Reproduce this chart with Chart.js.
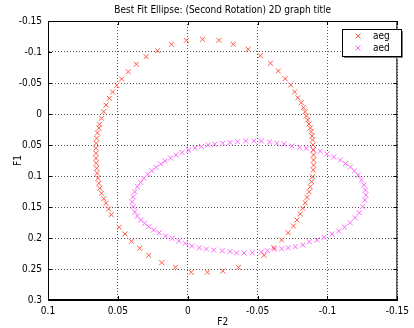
<!DOCTYPE html>
<html lang="en">
<head>
    <meta charset="UTF-8">
    <title>Best Fit Ellipse</title>
    <script src="https://cdn.jsdelivr.net/npm/chart.js"></script>
    <style>
        body { margin: 0; background: #fff; }
    </style>
</head>

<body>
    <canvas id="ellipseChart" width="414" height="328"></canvas>

    <script>
        // Tick values and labels
        const xTicks = [0.1, 0.05, 0, -0.05, -0.1, -0.15];
        const xTickLabels = ['0.1', '0.05', '0', '-0.05', '-0.1', '-0.15'];
        const yTicks = [-0.15, -0.1, -0.05, 0, 0.05, 0.1, 0.15, 0.2, 0.25, 0.3];
        const yTickLabels = ['-0.15', '-0.1', '-0.05', '0', '0.05', '0.1', '0.15', '0.2', '0.25', '0.3'];

        // aeg (F2, F1) points
        const aegF2 = [0.0298, 0.0216, 0.0116, 0.0010, -0.0106, -0.0223, -0.0326, -0.0433, -0.0520, -0.0592,
            -0.0648, -0.0697, -0.0737, -0.0765, -0.0788, -0.0812, -0.0828, -0.0840, -0.0849, -0.0858,
            -0.0868, -0.0877, -0.0884, -0.0889, -0.0893, -0.0896, -0.0898, -0.0900, -0.0900, -0.0900,
            -0.0898, -0.0893, -0.0886, -0.0877, -0.0868, -0.0854, -0.0840, -0.0823, -0.0805, -0.0781,
            -0.0756, -0.0718, -0.0672, -0.0616, -0.0546, -0.0363, -0.0251, -0.0141, -0.0025, 0.0088,
            0.0186, 0.0279, 0.0344, 0.0403, 0.0449, 0.0491, 0.0547, 0.0566, 0.0585, 0.0601,
            0.0617, 0.0629, 0.0636, 0.0643, 0.0648, 0.0652, 0.0655, 0.0657, 0.0657, 0.0657,
            0.0655, 0.0652, 0.0646, 0.0636, 0.0631, 0.0617, 0.0601, 0.0585, 0.0561, 0.0538,
            0.0508, 0.0473, 0.0426, 0.0368];
        const aegF1 = [-0.0924, -0.1021, -0.1124, -0.1189, -0.1205, -0.1189, -0.1124, -0.1044, -0.0940, -0.0818,
            -0.0694, -0.0569, -0.0468, -0.0355, -0.0263, -0.0182, -0.0102, -0.0037, 0.0032, 0.0097,
            0.0161, 0.0226, 0.0285, 0.0355, 0.0419, 0.0500, 0.0581, 0.0661, 0.0742, 0.0823,
            0.0903, 0.1011, 0.1092, 0.1173, 0.1253, 0.1344, 0.1431, 0.1521, 0.1613, 0.1710,
            0.1806, 0.1915, 0.2032, 0.2157, 0.2279, 0.2473, 0.2532, 0.2553, 0.2553, 0.2473,
            0.2398, 0.2279, 0.2166, 0.2053, 0.1935, 0.1827, 0.1624, 0.1532, 0.1440, 0.1366,
            0.1279, 0.1198, 0.1118, 0.1037, 0.0956, 0.0876, 0.0795, 0.0715, 0.0634, 0.0553,
            0.0473, 0.0392, 0.0306, 0.0226, 0.0166, 0.0069, -0.0037, -0.0145, -0.0253, -0.0355,
            -0.0463, -0.0565, -0.0682, -0.0802];

        // aed (F2, F1) points
        const aedF2 = [0.0398, 0.0391, 0.0379, 0.0361, 0.0337, 0.0314, 0.0286, 0.0258, 0.0228, 0.0193,
            0.0162, 0.0123, 0.0083, 0.0041, -0.0006, -0.0053, -0.0099, -0.0146, -0.0193, -0.0251,
            -0.0303, -0.0356, -0.0415, -0.0473, -0.0527, -0.0585, -0.0637, -0.0690, -0.0746, -0.0800,
            -0.0847, -0.0898, -0.0947, -0.0996, -0.1045, -0.1092, -0.1129, -0.1164, -0.1192, -0.1220,
            -0.1243, -0.1260, -0.1271, -0.1274, -0.1267, -0.1250, -0.1227, -0.1197, -0.1162, -0.1122,
            -0.1080, -0.1033, -0.0975, -0.0924, -0.0870, -0.0823, -0.0770, -0.0718, -0.0672, -0.0620,
            -0.0571, -0.0527, -0.0462, -0.0403, -0.0349, -0.0303, -0.0247, -0.0186, -0.0134, -0.0083,
            -0.0029, 0.0017, 0.0064, 0.0111, 0.0158, 0.0204, 0.0244, 0.0279, 0.0309, 0.0337,
            0.0361, 0.0379, 0.0391];
        const aedF1 = [0.1415, 0.1334, 0.1253, 0.1173, 0.1102, 0.1037, 0.0973, 0.0915, 0.0860, 0.0806,
            0.0758, 0.0710, 0.0661, 0.0621, 0.0581, 0.0548, 0.0524, 0.0500, 0.0487, 0.0473,
            0.0460, 0.0447, 0.0435, 0.0435, 0.0435, 0.0452, 0.0473, 0.0484, 0.0516, 0.0537,
            0.0553, 0.0576, 0.0602, 0.0645, 0.0694, 0.0742, 0.0798, 0.0855, 0.0919, 0.0984,
            0.1065, 0.1145, 0.1226, 0.1306, 0.1387, 0.1495, 0.1592, 0.1673, 0.1753, 0.1827,
            0.1887, 0.1935, 0.1989, 0.2032, 0.2060, 0.2113, 0.2140, 0.2157, 0.2173, 0.2182,
            0.2205, 0.2226, 0.2237, 0.2242, 0.2242, 0.2218, 0.2205, 0.2194, 0.2177, 0.2157,
            0.2129, 0.2086, 0.2048, 0.2005, 0.1968, 0.1915, 0.1871, 0.1818, 0.1763, 0.1710,
            0.1645, 0.1576, 0.1495];

        const FONT = '"Liberation Sans Narrow", "DejaVu Sans Condensed", "Liberation Sans", sans-serif';

        function toPoints(xs, ys) {
            return xs.map((x, i) => ({ x: x, y: ys[i] }));
        }

        // title, box and inward ticks round the axes, legend in the top right corner
        const framePlugin = {
            id: 'frame',
            afterDraw(chart) {
                const ctx = chart.ctx;
                const a = chart.chartArea;
                const xs = chart.scales.x, ys = chart.scales.y;
                ctx.save();
                ctx.strokeStyle = '#000';
                ctx.lineWidth = 1;
                ctx.strokeRect(a.left + 0.5, a.top + 0.5, a.right - a.left - 1, a.bottom - a.top - 1);

                ctx.beginPath();
                xTicks.forEach(v => {
                    const px = Math.round(xs.getPixelForValue(v)) + 0.5;
                    ctx.moveTo(px, a.bottom); ctx.lineTo(px, a.bottom - 4);
                    ctx.moveTo(px, a.top); ctx.lineTo(px, a.top + 4);
                });
                yTicks.forEach(v => {
                    const py = Math.round(ys.getPixelForValue(v)) + 0.5;
                    ctx.moveTo(a.left, py); ctx.lineTo(a.left + 4, py);
                    ctx.moveTo(a.right, py); ctx.lineTo(a.right - 4, py);
                });
                ctx.stroke();

                ctx.fillStyle = '#000';
                ctx.font = '10px ' + FONT;
                ctx.textAlign = 'center';
                ctx.textBaseline = 'middle';
                ctx.fillText('Best Fit Ellipse: (Second Rotation) 2D graph title', (a.left + a.right) / 2, 10);

                // legend
                const lx = 342, ly = 29, lw = 59, lh = 27;
                ctx.fillStyle = '#fff';
                ctx.fillRect(lx, ly, lw, lh);
                ctx.strokeStyle = '#000';
                ctx.strokeRect(lx + 0.5, ly + 0.5, lw, lh);
                ctx.strokeStyle = '#777';
                ctx.beginPath();
                ctx.moveTo(lx + lw + 1.5, ly + 2);
                ctx.lineTo(lx + lw + 1.5, ly + lh + 1.5);
                ctx.lineTo(lx + 2, ly + lh + 1.5);
                ctx.stroke();

                chart.data.datasets.forEach((ds, i) => {
                    const cy = ly + 7 + i * 12;
                    ctx.strokeStyle = ds.borderColor;
                    ctx.lineWidth = 1;
                    ctx.beginPath();
                    ctx.moveTo(lx + 13.5, cy - 2.5); ctx.lineTo(lx + 18.5, cy + 2.5);
                    ctx.moveTo(lx + 18.5, cy - 2.5); ctx.lineTo(lx + 13.5, cy + 2.5);
                    ctx.stroke();
                    ctx.fillStyle = '#000';
                    ctx.textAlign = 'left';
                    ctx.font = '10px ' + FONT;
                    ctx.fillText(ds.label, lx + 31, cy);
                });
                ctx.restore();
            }
        };

        const ctx = document.getElementById('ellipseChart').getContext('2d');
        const ellipseChart = new Chart(ctx, {
            type: 'scatter',
            data: {
                datasets: [{
                    label: 'aeg',
                    data: toPoints(aegF2, aegF1),
                    borderColor: 'rgb(255, 85, 65)',
                    backgroundColor: 'rgb(255, 85, 65)',
                    pointStyle: 'crossRot',
                    pointRadius: 3.5,
                    pointBorderWidth: 1
                }, {
                    label: 'aed',
                    data: toPoints(aedF2, aedF1),
                    borderColor: 'rgb(255, 100, 255)',
                    backgroundColor: 'rgb(255, 100, 255)',
                    pointStyle: 'crossRot',
                    pointRadius: 3.5,
                    pointBorderWidth: 1
                }]
            },
            options: {
                responsive: false,
                animation: false,
                devicePixelRatio: 1,
                layout: { padding: { top: 21, right: 9, left: 0, bottom: 0 } },
                plugins: {
                    legend: { display: false },
                    tooltip: { enabled: false }
                },
                scales: {
                    x: {
                        type: 'linear',
                        min: -0.15,
                        max: 0.1,
                        reverse: true,
                        afterFit: (scale) => { scale.height = 28; },
                        afterBuildTicks: (scale) => { scale.ticks = xTicks.map(v => ({ value: v })); },
                        ticks: {
                            padding: 5,
                            color: '#000',
                            font: { family: FONT, size: 10 },
                            maxRotation: 0,
                            callback: (v) => xTickLabels[xTicks.indexOf(v)]
                        },
                        grid: { color: '#555', drawTicks: false },
                        border: { color: '#000', dash: [1, 2] },
                        title: {
                            display: true, text: 'F2', color: '#000',
                            font: { family: FONT, size: 10 }, padding: 0
                        }
                    },
                    y: {
                        type: 'linear',
                        min: -0.15,
                        max: 0.3,
                        reverse: true,
                        afterFit: (scale) => { scale.width = 48; },
                        afterBuildTicks: (scale) => { scale.ticks = yTicks.map(v => ({ value: v })); },
                        ticks: {
                            padding: 6,
                            color: '#000',
                            font: { family: FONT, size: 10 },
                            callback: (v) => yTickLabels[yTicks.indexOf(v)]
                        },
                        grid: { color: '#555', drawTicks: false },
                        border: { color: '#000', dash: [1, 2] },
                        title: {
                            display: true, text: 'F1', color: '#000',
                            font: { family: FONT, size: 10 }, padding: { top: 12, bottom: 0 }
                        }
                    }
                }
            },
            plugins: [framePlugin]
        });
    </script>
</body>
</html>
